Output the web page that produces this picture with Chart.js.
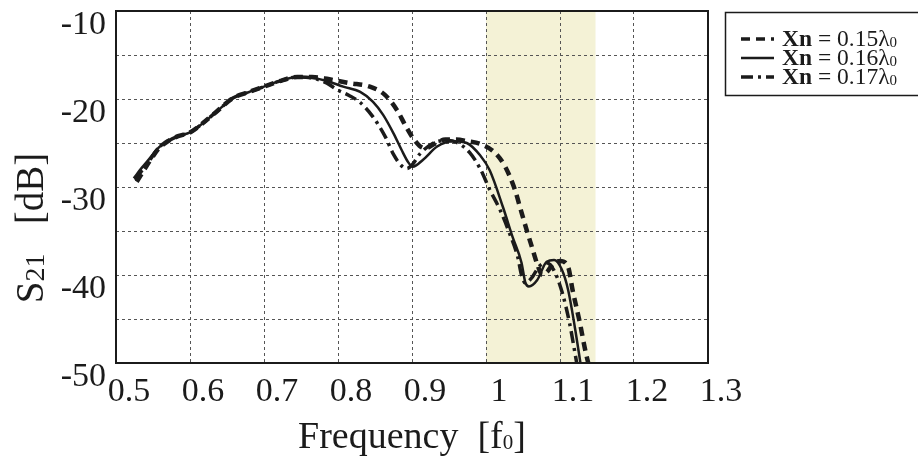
<!DOCTYPE html>
<html>
<head>
<meta charset="utf-8">
<script src="https://cdn.jsdelivr.net/npm/chart.js@4.4.0/dist/chart.umd.min.js"></script>
<style>
  html, body { margin: 0; padding: 0; background: #fff; }
  #wrap { width: 918px; height: 462px; }
</style>
</head>
<body>
<div id="wrap"><canvas id="c" width="918" height="462"></canvas></div>
<script>
// frequency in f0, S21 in dB
const freq15 = [0.528, 0.537, 0.546, 0.558, 0.570, 0.585, 0.600, 0.618, 0.635, 0.658, 0.680, 0.700, 0.720, 0.745, 0.765, 0.785,
  0.800, 0.816, 0.843, 0.863, 0.880, 0.891, 0.901, 0.910, 0.918, 0.930, 0.945, 0.960, 0.975, 0.992,
  1.012, 1.026, 1.039, 1.046, 1.055, 1.062, 1.069, 1.076, 1.083, 1.090, 1.100, 1.111, 1.117, 1.127, 1.134, 1.139];
const s21_15 = [-29.4, -28.2, -27.0, -25.6, -24.8, -24.2, -23.8, -22.7, -21.5, -19.9, -19.2, -18.6, -18.0, -17.5, -17.5, -17.7,
  -17.95, -18.2, -18.6, -19.5, -21.3, -23.0, -24.4, -25.3, -25.6, -25.1, -24.6, -24.6, -24.8, -25.1,
  -26.1, -27.7, -30.3, -32.3, -34.9, -36.8, -38.7, -40.0, -39.6, -38.8, -38.4, -39.1, -41.7, -45.5, -48.5, -50.3];

const freq16 = [0.524, 0.535, 0.545, 0.558, 0.570, 0.585, 0.600, 0.618, 0.635, 0.658, 0.680, 0.700, 0.720, 0.745, 0.765, 0.785,
  0.807, 0.830, 0.847, 0.861, 0.875, 0.886, 0.895, 0.901, 0.915, 0.934, 0.956, 0.974, 0.992,
  1.005, 1.023, 1.036, 1.048, 1.053, 1.058, 1.069, 1.082, 1.092, 1.102, 1.111, 1.120, 1.128];
const s21_16 = [-29.0, -27.8, -26.8, -25.5, -24.8, -24.2, -23.8, -22.7, -21.5, -19.9, -19.2, -18.6, -18.0, -17.5, -17.6, -17.95,
  -18.6, -19.2, -20.3, -21.8, -23.9, -25.8, -27.2, -27.7, -26.9, -25.4, -24.8, -25.0, -26.4,
  -28.1, -32.3, -35.7, -38.6, -40.8, -41.3, -40.6, -38.5, -38.3, -39.3, -41.7, -45.9, -50.2];

const freq17 = [0.526, 0.536, 0.546, 0.558, 0.570, 0.585, 0.600, 0.618, 0.635, 0.658, 0.680, 0.700, 0.720, 0.745, 0.765,
  0.785, 0.800, 0.815, 0.830, 0.847, 0.864, 0.875, 0.886, 0.893, 0.900, 0.911, 0.929, 0.947, 0.962, 0.978, 0.992,
  1.005, 1.019, 1.032, 1.043, 1.048, 1.053, 1.062, 1.072, 1.082, 1.092, 1.103, 1.113, 1.123];
const s21_17 = [-29.2, -28.0, -26.9, -25.5, -24.8, -24.2, -23.8, -22.7, -21.5, -19.9, -19.2, -18.6, -18.0, -17.5, -17.6,
  -18.2, -19.0, -19.6, -20.4, -22.0, -24.3, -26.3, -27.6, -27.9, -27.5, -26.2, -25.0, -24.7, -25.0, -26.1, -27.9,
  -30.3, -32.6, -35.3, -38.0, -40.0, -40.9, -40.3, -39.0, -38.6, -39.5, -42.0, -45.5, -50.2];

const xTicks = [0.5, 0.6, 0.7, 0.8, 0.9, 1, 1.1, 1.2, 1.3];
const yTicks = [-50, -40, -30, -20, -10];
const band = [1.0, 1.148];
const legendLabels = ['0.15', '0.16', '0.17'];

const SERIF = '"Liberation Serif", "DejaVu Serif", serif';
const INK = '#1b1b1b';

function pts(xs, ys) {
  return xs.map((x, i) => ({ x: x, y: ys[i] }));
}

// text made of pieces (bold part, subscript)
function richWidth(ctx, parts) {
  let w = 0;
  parts.forEach(p => { ctx.font = p.font; w += ctx.measureText(p.t).width; });
  return w;
}
function drawRich(ctx, parts, x, y) {
  parts.forEach(p => {
    ctx.font = p.font;
    ctx.fillText(p.t, x, y + (p.dy || 0));
    x += ctx.measureText(p.t).width;
  });
}

const bandPlugin = {
  id: 'band',
  beforeDraw(chart) {
    const { ctx, chartArea: a, scales: { x } } = chart;
    ctx.save();
    ctx.fillStyle = '#f4f2d6';
    const x0 = x.getPixelForValue(band[0]);
    const x1 = x.getPixelForValue(band[1]);
    ctx.fillRect(x0, a.top, x1 - x0, a.bottom - a.top);
    ctx.restore();
  }
};

const decorPlugin = {
  id: 'decor',
  afterDraw(chart) {
    const { ctx, chartArea: a } = chart;
    ctx.save();
    // frame
    ctx.strokeStyle = INK;
    ctx.lineWidth = 2;
    ctx.strokeRect(a.left, a.top, a.right - a.left, a.bottom - a.top);

    ctx.fillStyle = INK;
    ctx.textBaseline = 'alphabetic';

    // x title
    const big = '38px ' + SERIF;
    const xt = [{ t: 'Frequency  [f', font: big }, { t: '0', font: '21px ' + SERIF, dy: 1 }, { t: ']', font: big }];
    const xw = richWidth(ctx, xt);
    drawRich(ctx, xt, (a.left + a.right) / 2 - xw / 2, 448);

    // y title
    const yBig = '39px ' + SERIF;
    const yt = [{ t: 'S', font: yBig }, { t: '21', font: '28px ' + SERIF, dy: 1 }, { t: '   [dB]', font: yBig }];
    const yw = richWidth(ctx, yt);
    ctx.save();
    ctx.translate(43, 228);
    ctx.rotate(-Math.PI / 2);
    drawRich(ctx, yt, -yw / 2, 0);
    ctx.restore();

    // legend box
    ctx.lineWidth = 1.5;
    ctx.strokeRect(725.5, 12.5, 200, 83);
    const rows = [39, 58, 77];
    chart.data.datasets.forEach((ds, i) => {
      const y = rows[i];
      ctx.save();
      ctx.strokeStyle = INK;
      ctx.lineWidth = Math.min(ds.borderWidth, 3.5);
      ctx.setLineDash(ds.borderDash || []);
      ctx.beginPath();
      ctx.moveTo(741, y);
      ctx.lineTo(774, y);
      ctx.stroke();
      ctx.restore();
      const lt = [
        { t: 'Xn', font: 'bold 23.5px ' + SERIF },
        { t: ' = ' + legendLabels[i] + 'λ', font: '23.5px ' + SERIF },
        { t: '0', font: '15px ' + SERIF, dy: 1 }
      ];
      drawRich(ctx, lt, 782, y + 7);
    });
    ctx.restore();
  }
};

new Chart(document.getElementById('c'), {
  type: 'scatter',
  data: {
    datasets: [
      { label: 'Xn = 0.15λ0', data: pts(freq15, s21_15), borderColor: INK, borderWidth: 4.5, borderDash: [9, 6] },
      { label: 'Xn = 0.16λ0', data: pts(freq16, s21_16), borderColor: INK, borderWidth: 2.5, borderDash: [] },
      { label: 'Xn = 0.17λ0', data: pts(freq17, s21_17), borderColor: INK, borderWidth: 3.5, borderDash: [12, 5, 3, 5] }
    ]
  },
  options: {
    responsive: false,
    animation: false,
    showLine: true,
    elements: {
      point: { radius: 0, hoverRadius: 0 },
      line: { cubicInterpolationMode: 'monotone', fill: false }
    },
    layout: { padding: { top: 11, right: 210, left: 0, bottom: 0 } },
    plugins: { legend: { display: false }, tooltip: { enabled: false } },
    scales: {
      x: {
        type: 'linear', min: 0.5, max: 1.3,
        afterBuildTicks: s => { s.ticks = xTicks.map(v => ({ value: v })); },
        afterFit: s => { s.height = 99; s.paddingLeft = 0; s.paddingRight = 0; },
        ticks: {
          padding: 9, labelOffset: 13, color: INK,
          font: { family: SERIF, size: 34 },
          callback: v => String(Math.round(v * 10) / 10)
        },
        grid: { color: '#555', lineWidth: 1, drawTicks: false },
        border: { display: false, dash: [3, 3] }
      },
      y: {
        min: -50, max: -10,
        ticks: {
          stepSize: 5, padding: 10, labelOffset: 14, color: INK,
          font: { family: SERIF, size: 34 },
          callback: v => (yTicks.includes(v) ? String(v) : '')
        },
        afterFit: s => { s.width = 116; s.paddingTop = 0; s.paddingBottom = 0; },
        grid: { color: '#555', lineWidth: 1, drawTicks: false },
        border: { display: false, dash: [3, 3] }
      }
    }
  },
  plugins: [bandPlugin, decorPlugin]
});
</script>
</body>
</html>
